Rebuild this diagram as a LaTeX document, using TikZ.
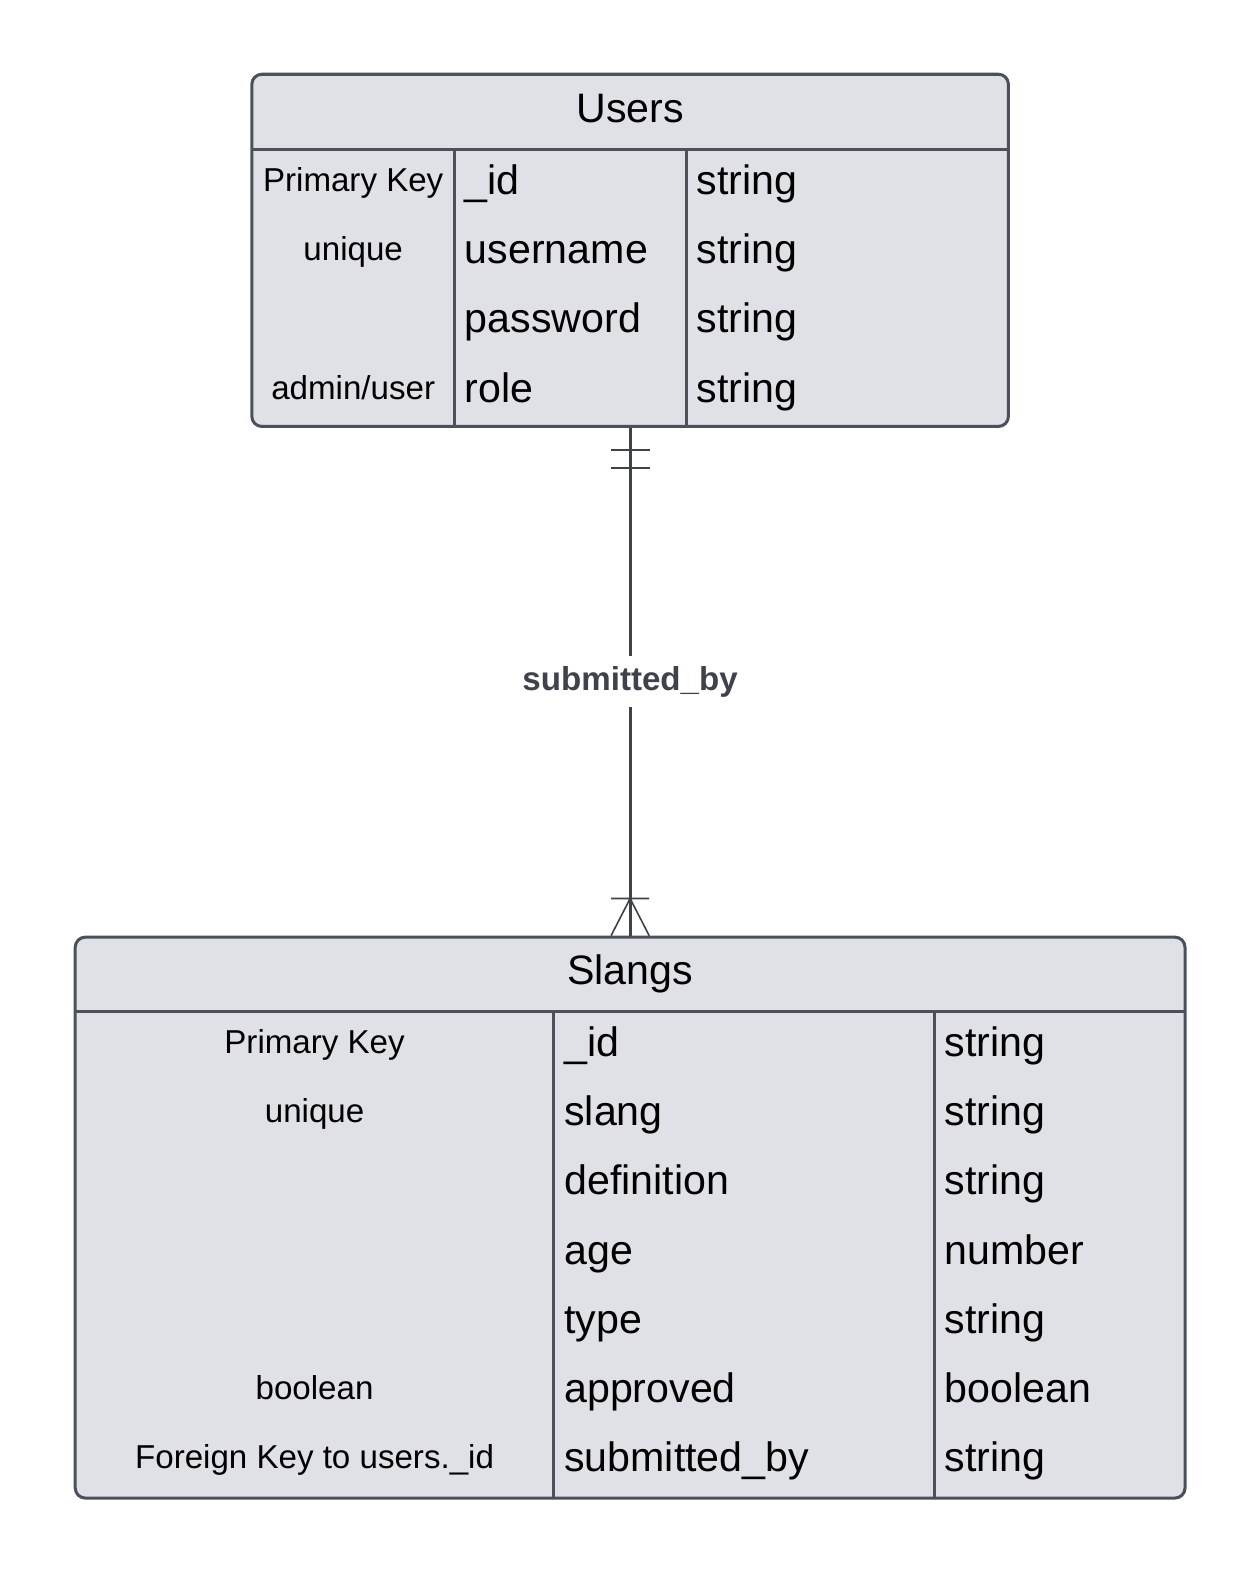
\documentclass[tikz,border=0pt]{standalone}
\usepackage{fontspec}
\setmainfont{Liberation Sans}
\definecolor{erfill}{HTML}{DFE1E6}
\definecolor{erline}{HTML}{4B505A}
\definecolor{relline}{HTML}{3E424B}
\tikzset{
  entity/.style={draw=erline,fill=erfill,line width=1.5bp,rounded corners=5bp,inner sep=0pt},
  grid/.style={draw=erline,line width=1.5bp},
  big/.style={font=\fontsize{20.5bp}{24bp}\selectfont,text height=14.8bp,text depth=0pt,inner sep=0pt},
  small/.style={font=\fontsize{16.5bp}{20bp}\selectfont,text height=11.9bp,text depth=0pt,inner sep=0pt},
  rel/.style={draw=relline,line width=1.4bp},
  foot/.style={draw=relline,line width=0.8bp},
}
\begin{document}
\begin{tikzpicture}[x=0.5bp,y=-0.5bp]
    \useasboundingbox (0,0) rectangle (1255.7,1567.7);
    % users table
    \node[entity,minimum width=377bp,minimum height=175.5bp] (users) at (628,249.5) {};
    \node[big] (usersT) at (628,107) {Users};
    \draw[grid] (251,149)--(1005,149) (453,149)--(453,425) (684,149)--(684,425);
    \foreach \k/\n/\t [count=\i from 0] in {Primary Key/\_id/string,unique/username/string,/password/string,{admin/user}/role/string}{
        \node[small] (uk\i) at (352,{179+69*\i}) {\k};
        \node[big,anchor=west] (un\i) at (463,{179+69*\i}) {\n};
        \node[big,anchor=west] (ut\i) at (694,{179+69*\i}) {\t};
    }
    % slangs table
    \node[entity,minimum width=553bp,minimum height=279.5bp] (slangs) at (628,1213.5) {};
    \node[big] (slangsT) at (628,966) {Slangs};
    \draw[grid] (75,1008)--(1181,1008) (552,1008)--(552,1493) (931,1008)--(931,1493);
    \foreach \k/\n/\t [count=\i from 0] in {Primary Key/\_id/string,unique/slang/string,/definition/string,/age/number,/type/string,boolean/approved/boolean,Foreign Key to users.\_id/submitted\_by/string}{
        \node[small] (sk\i) at (313.5,{1038+69*\i}) {\k};
        \node[big,anchor=west] (sn\i) at (562,{1038+69*\i}) {\n};
        \node[big,anchor=west] (st\i) at (941,{1038+69*\i}) {\t};
    }
    % relation
    \draw[rel] (users.south)--node[fill=white,text=relline,inner xsep=1bp,inner ysep=5bp,font=\fontsize{16.5bp}{20bp}\selectfont\bfseries] (relL) {submitted\_by} (slangs.north);
    \draw[rel] ([xshift=-9.75bp,yshift=-11bp]users.south)--([xshift=9.75bp,yshift=-11bp]users.south);
    \draw[rel] ([xshift=-9.75bp,yshift=-20bp]users.south)--([xshift=9.75bp,yshift=-20bp]users.south);
    \coordinate (cf) at ([yshift=18.5bp]slangs.north);
    \draw[foot] ([xshift=-9.5bp]slangs.north)--(cf)--([xshift=9.5bp]slangs.north) ([xshift=-9.5bp]cf)--([xshift=9.5bp]cf);
\end{tikzpicture}
\end{document}
